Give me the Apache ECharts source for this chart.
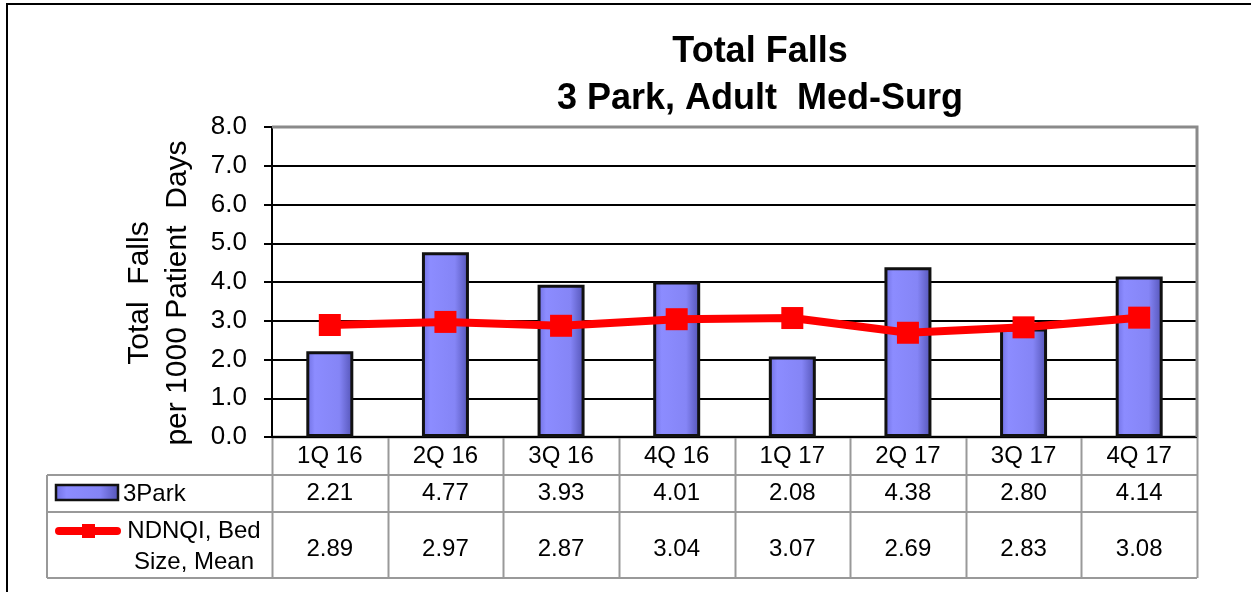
<!DOCTYPE html>
<html>
<head>
    <meta charset="utf-8"/>
    <title>Total Falls</title>
    <style>
        html, body { margin: 0; padding: 0; background: #fff; }
    </style>
</head>
<body>

<div id="main" style="width: 1251px;height:592px;"></div>

<script src="https://cdn.jsdelivr.net/npm/echarts@6/dist/echarts.min.js"></script>
<script>
    // data
    var quarters = ['1Q 16', '2Q 16', '3Q 16', '4Q 16', '1Q 17', '2Q 17', '3Q 17', '4Q 17'];
    var park = [2.21, 4.77, 3.93, 4.01, 2.08, 4.38, 2.80, 4.14];
    var ndnqi = [2.89, 2.97, 2.87, 3.04, 3.07, 2.69, 2.83, 3.08];

    var FONT = "'Liberation Sans', Arial, sans-serif";
    var gLeft = 272, gTop = 127, gWidth = 925, gHeight = 310;
    var tableLeft = 47;
    var rowY = [437, 475, 512, 578];

    var barFill = new echarts.graphic.LinearGradient(0, 0, 1, 0, [
        {offset: 0, color: '#6e6ee0'},
        {offset: 0.18, color: '#8c8cff'},
        {offset: 0.7, color: '#8585f6'},
        {offset: 1, color: '#5252b4'}
    ]);

    var myChart = echarts.init(document.getElementById('main'));

    // table grid lines + legend column
    var graphics = [
        {   // outer frame
            type: 'rect', shape: {x: 7, y: 4, width: 1260, height: 610},
            style: {fill: 'none', stroke: '#000', lineWidth: 2}, z: 0
        },
        {   // plot frame top / right
            type: 'polyline', shape: {points: [[gLeft, gTop], [gLeft + gWidth, gTop], [gLeft + gWidth, gTop + gHeight]]},
            style: {fill: 'none', stroke: '#8a8a8a', lineWidth: 3}, z: 1
        }
    ];
    for (var i = 0; i <= quarters.length; i++) {
        var x = Math.round(gLeft + i * gWidth / quarters.length) + 0.5;
        graphics.push({
            type: 'line', shape: {x1: x, y1: rowY[0], x2: x, y2: rowY[3]},
            style: {stroke: '#999', lineWidth: 2}
        });
    }
    graphics.push({
        type: 'line', shape: {x1: gLeft, y1: rowY[0], x2: gLeft + gWidth, y2: rowY[0]},
        style: {stroke: '#999', lineWidth: 3}
    });
    for (var r = 1; r < rowY.length; r++) {
        graphics.push({
            type: 'line', shape: {x1: tableLeft, y1: rowY[r], x2: gLeft + gWidth, y2: rowY[r]},
            style: {stroke: '#999', lineWidth: 2}
        });
    }
    graphics.push({
        type: 'line', shape: {x1: tableLeft, y1: rowY[1], x2: tableLeft, y2: rowY[3]},
        style: {stroke: '#999', lineWidth: 2}
    });
    // legend keys
    graphics.push({
        type: 'rect', shape: {x: 56, y: 485, width: 62, height: 15},
        style: {fill: barFill, stroke: '#111', lineWidth: 2.5}
    });
    graphics.push({
        type: 'text', style: {x: 123, y: 494, text: '3Park', font: '24px ' + FONT, fill: '#000', verticalAlign: 'middle'}
    });
    graphics.push({
        type: 'line', shape: {x1: 59, y1: 531, x2: 117, y2: 531},
        style: {stroke: '#ff0000', lineWidth: 8, lineCap: 'round'}
    });
    graphics.push({
        type: 'rect', shape: {x: 82, y: 524, width: 13, height: 14},
        style: {fill: '#ff0000'}
    });
    graphics.push({
        type: 'text', style: {x: 194, y: 531, text: 'NDNQI, Bed\nSize, Mean', font: '24px ' + FONT, fill: '#000',
            align: 'center', verticalAlign: 'top', lineHeight: 31}, y: -15
    });

    var option = {
        animation: false,
        textStyle: {fontFamily: FONT},
        title: {
            text: 'Total Falls\n3 Park, Adult  Med-Surg',
            left: 755,
            top: 24,
            textAlign: 'center',
            textStyle: {fontSize: 36, fontWeight: 'bold', color: '#000', lineHeight: 47, fontFamily: FONT}
        },
        grid: {left: gLeft, top: gTop, width: gWidth, height: gHeight},
        xAxis: {
            type: 'category',
            data: quarters,
            axisLine: {show: false},
            axisTick: {show: false},
            axisLabel: {
                margin: 0,
                formatter: function (v, idx) {
                    return '{c|' + v + '}\n{v|' + park[idx].toFixed(2) + '}\n{w|' + ndnqi[idx].toFixed(2) + '}';
                },
                rich: {
                    c: {fontSize: 24, lineHeight: 38, color: '#000', fontFamily: FONT},
                    v: {fontSize: 24, lineHeight: 37, color: '#000', fontFamily: FONT},
                    w: {fontSize: 24, lineHeight: 74, color: '#000', fontFamily: FONT}
                }
            }
        },
        yAxis: {
            type: 'value',
            min: 0,
            max: 8,
            interval: 1,
            name: 'Total  Falls\nper 1000 Patient  Days',
            nameLocation: 'middle',
            nameRotate: 90,
            nameGap: 75,
            nameTextStyle: {fontSize: 30, color: '#000', lineHeight: 38, fontFamily: FONT, padding: [0, 22, 0, 0]},
            axisLine: {show: true, lineStyle: {color: '#000', width: 2}},
            axisTick: {show: true, length: 8, lineStyle: {color: '#000', width: 2}},
            axisLabel: {
                margin: 25, fontSize: 26, color: '#000', fontFamily: FONT,
                formatter: function (v) { return v.toFixed(1); }
            },
            splitLine: {lineStyle: {color: '#000', width: 2}}
        },
        series: [
            {
                name: '3Park',
                type: 'bar',
                data: park,
                barWidth: 47,
                itemStyle: {color: barFill, borderColor: '#111', borderWidth: 3},
                z: 2
            },
            {
                name: 'NDNQI, Bed Size, Mean',
                type: 'line',
                data: ndnqi,
                symbol: 'rect',
                symbolSize: 22,
                lineStyle: {color: '#ff0000', width: 8},
                itemStyle: {color: '#ff0000'},
                z: 3
            }
        ],
        graphic: graphics
    };

    myChart.setOption(option);
</script>
</body>
</html>
